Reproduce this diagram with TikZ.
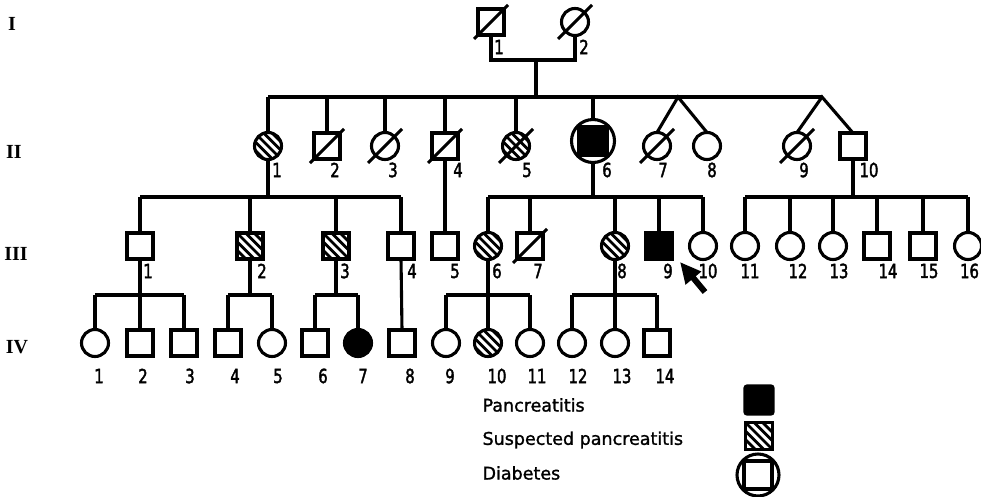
\documentclass[tikz,border=0pt]{standalone}
\usepackage{fontspec}
\setmainfont{DejaVu Sans}
\newfontfamily\numfont[FakeStretch=0.76,FakeBold=2]{DejaVu Sans}
\newfontfamily\legfont[FakeBold=1.4]{DejaVu Sans}
\newfontfamily\genfont{Liberation Serif}
\usetikzlibrary{arrows.meta,calc}
\tikzset{
  sym/.style={draw, inner sep=0pt, outer sep=0pt, line width=3.1pt},
  ms/.style={sym, rectangle, minimum size=26pt},
  fs/.style={sym, circle, minimum size=27pt},
  aff/.style={fill=black},
  hatch/.style={path picture={
    \foreach \k in {-6,...,6}{
      \draw[line width=2.8pt]
        ($(path picture bounding box.center)+({\k*4.3-24},{-\k*4.3-24})$) --
        ($(path picture bounding box.center)+({\k*4.3+24},{-\k*4.3+24})$);
    }}},
  lab/.style={font=\numfont\fontsize{19.5}{19.5}\selectfont, inner sep=0pt},
  genl/.style={font=\genfont\bfseries\fontsize{20}{20}\selectfont, inner sep=0pt},
  legtxt/.style={font=\legfont\fontsize{17.5}{17.5}\selectfont, inner sep=0pt, anchor=west},
  slash/.style={line width=3.1pt}
}
\newcommand\deadmark[1]{\draw[slash] ($(#1.center)+(-17,17)$) -- ($(#1.center)+(17,-17)$);}
\begin{document}
\begin{tikzpicture}[x=1pt, y=-1pt, line width=3.1pt]
\useasboundingbox (0,0) rectangle (981,496);

% generation labels
\node[genl] (gI) at (12,24) {I};
\node[genl] (gII) at (14,152) {II};
\node[genl] (gIII) at (16,254) {III};
\node[genl] (gIV) at (17,347) {IV};

% ---------- generation I
\node[ms] (I1) at (491,22) {};
\node[fs] (I2) at (575,22) {};
\deadmark{I1} \deadmark{I2}
\node[lab] (lI1) at (499,47) {1};
\node[lab] (lI2) at (584,47) {2};
\coordinate (mI) at (536,60);
\coordinate (sII) at (536,97);
\draw (I1.south) |- (mI) -| (I2.south);
\draw (mI) -- (sII);

% ---------- generation II
\node[fs, hatch] (II1) at (268,146) {};
\node[ms] (II2) at (327,146) {};
\node[fs] (II3) at (385,146) {};
\node[ms] (II4) at (445,146) {};
\node[fs, hatch] (II5) at (516,146) {};
\node[sym, circle, minimum size=43pt] (II6) at (593,141) {};
\node[ms, aff, minimum size=29pt] (II6i) at (II6.center) {};
\node[fs] (II7) at (657,146) {};
\node[fs] (II8) at (707,146) {};
\node[fs] (II9) at (797,146) {};
\node[ms] (II10) at (853,146) {};
\deadmark{II2} \deadmark{II3} \deadmark{II4} \deadmark{II5} \deadmark{II7} \deadmark{II9}

\node[lab] (lII1) at (277,170) {1};
\node[lab] (lII2) at (335,170) {2};
\node[lab] (lII3) at (393,170) {3};
\node[lab] (lII4) at (458,170) {4};
\node[lab] (lII5) at (527,170) {5};
\node[lab] (lII6) at (607,170) {6};
\node[lab] (lII7) at (663,170) {7};
\node[lab] (lII8) at (712,170) {8};
\node[lab] (lII9) at (804,170) {9};
\node[lab] (lII10) at (869,170) {10};

\coordinate (bIIa) at (268,97);
\coordinate (t78) at (678,97);
\coordinate (t910) at (822,97);
\draw (bIIa) -- (t910);
\foreach \n in {II1,II2,II3,II4,II5,II6}{\draw (\n.north) -- (\n.north |- bIIa);}
\draw (II7.north) -- (t78) -- (II8.north);
\draw (II9.north) -- (t910) -- (II10.north);

% ---------- generation III
\node[ms] (III1) at (140,246) {};
\node[ms, hatch] (III2) at (250,246) {};
\node[ms, hatch] (III3) at (336,246) {};
\node[ms] (III4) at (401,246) {};
\node[ms] (III5) at (445,246) {};
\node[fs, hatch] (III6) at (488,246) {};
\node[ms] (III7) at (530,246) {};
\node[fs, hatch] (III8) at (615,246) {};
\node[ms, aff] (III9) at (659,246) {};
\node[fs] (III10) at (703,246) {};
\node[fs] (III11) at (745,246) {};
\node[fs] (III12) at (790,246) {};
\node[fs] (III13) at (833,246) {};
\node[ms] (III14) at (877,246) {};
\node[ms] (III15) at (923,246) {};
\node[fs] (III16) at (968,246) {};
\deadmark{III7}

\node[lab] (lIII1) at (148,271) {1};
\node[lab] (lIII2) at (262,271) {2};
\node[lab] (lIII3) at (345,271) {3};
\node[lab] (lIII4) at (412,271) {4};
\node[lab] (lIII5) at (455,271) {5};
\node[lab] (lIII6) at (497,271) {6};
\node[lab] (lIII7) at (538,271) {7};
\node[lab] (lIII8) at (622,271) {8};
\node[lab] (lIII9) at (668,271) {9};
\node[lab] (lIII10) at (708,271) {10};
\node[lab] (lIII11) at (750,271) {11};
\node[lab] (lIII12) at (798,271) {12};
\node[lab] (lIII13) at (839,271) {13};
\node[lab] (lIII14) at (888,271) {14};
\node[lab] (lIII15) at (929,271) {15};
\node[lab, anchor=east] (lIII16) at (980.5,271) {16};

% sibship of II-1
\coordinate (bIIIa) at (140,197);
\coordinate (bIIIb) at (401,197);
\draw (bIIIa) -- (bIIIb);
\draw (II1.south) -- (II1.south |- bIIIa);
\foreach \n in {III1,III2,III3,III4}{\draw (\n.north) -- (\n.north |- bIIIa);}
% II-4 to III-5
\draw (II4.south) -- (III5.north);
% sibship of II-6
\coordinate (bIIIc) at (488,197);
\coordinate (bIIId) at (703,197);
\draw (bIIIc) -- (bIIId);
\draw (II6.south) -- (II6.south |- bIIIc);
\foreach \n in {III6,III7,III8,III9,III10}{\draw (\n.north) -- (\n.north |- bIIIc);}
% sibship of II-10
\coordinate (bIIIe) at (745,197);
\coordinate (bIIIf) at (968,197);
\draw (bIIIe) -- (bIIIf);
\draw (II10.south) -- (II10.south |- bIIIe);
\foreach \n in {III11,III12,III13,III14,III15,III16}{\draw (\n.north) -- (\n.north |- bIIIe);}

% proband arrow
\coordinate (arT) at (705,292);
\coordinate (arH) at (680,262);
\draw[line width=6pt, -{Triangle[length=21pt,width=19pt]}] (arT) -- (arH);

% ---------- generation IV
\node[fs] (IV1) at (95,343) {};
\node[ms] (IV2) at (140,343) {};
\node[ms] (IV3) at (184,343) {};
\node[ms] (IV4) at (228,343) {};
\node[fs] (IV5) at (272,343) {};
\node[ms] (IV6) at (315,343) {};
\node[fs, aff] (IV7) at (358,343) {};
\node[ms] (IV8) at (402,343) {};
\node[fs] (IV9) at (446,343) {};
\node[fs, hatch] (IV10) at (488,343) {};
\node[fs] (IV11) at (530,343) {};
\node[fs] (IV12) at (572,343) {};
\node[fs] (IV13) at (615,343) {};
\node[ms] (IV14) at (657,343) {};

\node[lab] (lIV1) at (99,376) {1};
\node[lab] (lIV2) at (143,376) {2};
\node[lab] (lIV3) at (190,376) {3};
\node[lab] (lIV4) at (235,376) {4};
\node[lab] (lIV5) at (278,376) {5};
\node[lab] (lIV6) at (323,376) {6};
\node[lab] (lIV7) at (363,376) {7};
\node[lab] (lIV8) at (410,376) {8};
\node[lab] (lIV9) at (450,376) {9};
\node[lab] (lIV10) at (497,376) {10};
\node[lab] (lIV11) at (537,376) {11};
\node[lab] (lIV12) at (578,376) {12};
\node[lab] (lIV13) at (622,376) {13};
\node[lab] (lIV14) at (665,376) {14};

\coordinate (bIVa) at (95,295);
\draw (bIVa) -- (IV3.north |- bIVa);
\draw (III1.south) -- (III1.south |- bIVa);
\foreach \n in {IV1,IV2,IV3}{\draw (\n.north) -- (\n.north |- bIVa);}

\coordinate (bIVb) at (228,295);
\draw (bIVb) -- (IV5.north |- bIVb);
\draw (III2.south) -- (III2.south |- bIVb);
\foreach \n in {IV4,IV5}{\draw (\n.north) -- (\n.north |- bIVb);}

\coordinate (bIVc) at (315,295);
\draw (bIVc) -- (IV7.north |- bIVc);
\draw (III3.south) -- (III3.south |- bIVc);
\foreach \n in {IV6,IV7}{\draw (\n.north) -- (\n.north |- bIVc);}

\draw (III4.south) -- (IV8.north);

\coordinate (bIVd) at (446,295);
\draw (bIVd) -- (IV11.north |- bIVd);
\draw (III6.south) -- (III6.south |- bIVd);
\foreach \n in {IV9,IV10,IV11}{\draw (\n.north) -- (\n.north |- bIVd);}

\coordinate (bIVe) at (572,295);
\draw (bIVe) -- (IV14.north |- bIVe);
\draw (III8.south) -- (III8.south |- bIVe);
\foreach \n in {IV12,IV13,IV14}{\draw (\n.north) -- (\n.north |- bIVe);}

% ---------- legend
\node[legtxt] (tP) at (481,405) {Pancreatitis};
\node[legtxt] (tS) at (481,440) {Suspected pancreatitis};
\node[legtxt] (tD) at (481,473) {Diabetes};
\node[ms, aff, minimum size=28pt, rounded corners=2pt] (LP) at (759,400) {};
\node[ms, hatch, minimum size=27pt] (LS) at (759,436) {};
\node[sym, circle, minimum size=42pt] (LD) at (758,475) {};
\node[ms, minimum size=28pt] (LDi) at (LD.center) {};
\end{tikzpicture}
\end{document}
